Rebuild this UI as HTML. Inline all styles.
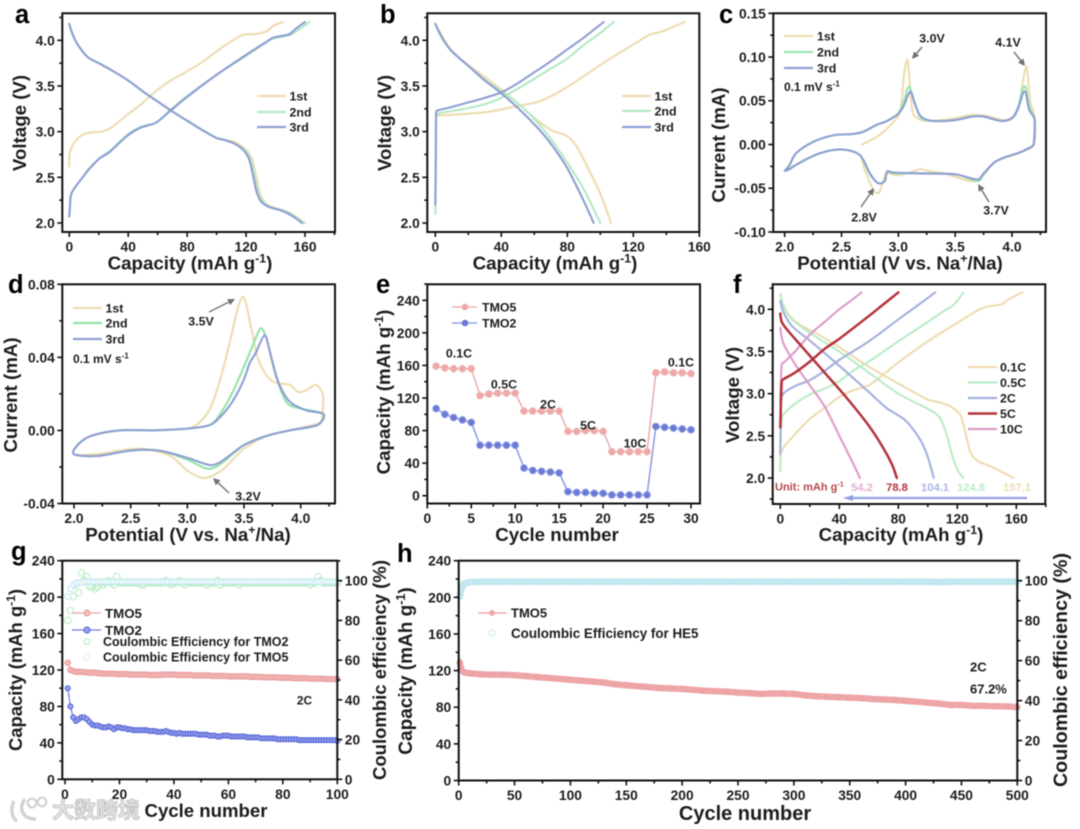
<!DOCTYPE html>
<html lang="en">
<head>
<meta charset="utf-8">
<title>Electrochemical performance panels</title>
<style>
html,body{margin:0;padding:0;background:#fff;width:1080px;height:829px;overflow:hidden}
svg{display:block;filter:blur(.5px)}
text{font-family:"Liberation Sans","Noto Sans CJK SC",sans-serif;font-weight:bold;fill:#1c1c1c}
</style>
</head>
<body>
<svg id="figure" xmlns="http://www.w3.org/2000/svg" width="1080" height="829" viewBox="0 0 1080 829"></svg>
<script>
/* ---------- tick labels ---------- */
const capVoltageYTicks=['2.0','2.5','3.0','3.5','4.0'];
const capXTicks160=['0','40','80','120','160'];
const cvCurrentTicksC=['-0.10','-0.05','0.00','0.05','0.10','0.15'];
const cvCurrentTicksD=['-0.04','0.00','0.04','0.08'];
const potentialTicks=['2.0','2.5','3.0','3.5','4.0'];
const rateXTicks=['0','5','10','15','20','25','30'];
const capacityTicks=['0','40','80','120','160','200','240'];
const ceTicks=['0','20','40','60','80','100'];
const cycleTicksG=['0','20','40','60','80','100'];
const cycleTicksH=['0','50','100','150','200','250','300','350','400','450','500'];

/* ---------- panel a ---------- */
const a1stChargeCap=[0,0.2,3,8.5,14,22,29,39,48,57,68,80,91,100,111,118,127,134,138.5,145];
const a1stChargeV=[2.62,2.76,2.87,2.96,2.99,3.0,3.05,3.18,3.29,3.42,3.55,3.66,3.77,3.88,4.0,4.06,4.07,4.1,4.16,4.2];
const a2ndChargeCap=[0,0.5,1,3,10,13,20,27.6,39,48,59,68,80,98,120,134,138.5,150,156,163];
const a2ndChargeV=[2.08,2.2,2.3,2.37,2.52,2.59,2.7,2.79,2.96,3.05,3.1,3.23,3.39,3.6,3.83,3.98,4.02,4.06,4.12,4.2];
const a3rdChargeCap=[0,0.5,1,3,10,13,20,27.6,39,48,59,68,80,98,120,134,138.5,149,154,160];
const a3rdChargeV=[2.07,2.2,2.3,2.37,2.52,2.58,2.7,2.78,2.95,3.04,3.1,3.22,3.38,3.6,3.84,3.985,4.03,4.065,4.13,4.2];
const a1stDischargeCap=[0,1,4,8,13,20,30,40,50,60,70,80,90,100,106,113,120,124,127,129,132,137,147,154,160];
const a1stDischargeV=[4.18,4.12,4.0,3.9,3.81,3.75,3.66,3.56,3.44,3.33,3.22,3.12,3.02,2.93,2.91,2.88,2.8,2.7,2.5,2.35,2.24,2.18,2.13,2.07,2.0];
const a2ndDischargeCap=[0,1,4,8,13,20,30,40,50,60,70,80,90,100,105,112,119,123,126,128,131,136,146,153,159];
const a2ndDischargeV=[4.18,4.12,4.0,3.9,3.81,3.75,3.66,3.56,3.44,3.33,3.22,3.12,3.02,2.93,2.91,2.87,2.8,2.7,2.5,2.35,2.24,2.18,2.13,2.07,2.0];
const a3rdDischargeCap=[0,1,4,8,13,20,30,40,50,60,70,80,90,100,105,112,118,122,125,127,130,135,145,152,158];
const a3rdDischargeV=[4.18,4.12,4.0,3.9,3.81,3.75,3.66,3.56,3.44,3.33,3.22,3.12,3.02,2.93,2.91,2.87,2.8,2.7,2.5,2.35,2.24,2.18,2.13,2.07,2.0];

/* ---------- panel b ---------- */
const b1stChargeCap=[2,15,33,47,63,73.5,86,100,116,130,138,151];
const b1stChargeV=[3.18,3.19,3.22,3.27,3.33,3.42,3.56,3.73,3.91,4.06,4.1,4.2];
const b2ndChargeCap=[0,0.3,0.5,2,15,30,40,50,60,70,80,90,100,108];
const b2ndChargeV=[2.1,2.6,3.15,3.2,3.24,3.3,3.37,3.47,3.58,3.69,3.8,3.95,4.08,4.2];
const b3rdChargeCap=[0,0.3,0.5,1,10,20,30,40,50,60,70,80,90,102];
const b3rdChargeV=[2.2,2.7,3.2,3.23,3.27,3.32,3.37,3.43,3.53,3.65,3.77,3.9,4.03,4.2];
const b1stDischargeCap=[0,10,20,30,40,50,60,70,80,86,92,100,106.5];
const b1stDischargeV=[4.18,3.88,3.73,3.6,3.46,3.31,3.15,3.02,2.95,2.83,2.62,2.32,2.0];
const b2ndDischargeCap=[0,2,5,10,20,30,40,50,60,70,80,90,100];
const b2ndDischargeV=[4.18,4.1,4.0,3.88,3.72,3.57,3.44,3.31,3.14,2.92,2.66,2.37,2.0];
const b3rdDischargeCap=[0,2,5,10,20,30,40,50,60,66,72,80,90,96];
const b3rdDischargeV=[4.18,4.1,4.0,3.88,3.72,3.56,3.42,3.26,3.08,2.96,2.82,2.6,2.24,2.0];

/* ---------- panel c ---------- */
const c1stPotential=[2.68,2.8,2.9,3.0,3.03,3.05,3.08,3.1,3.13,3.2,3.3,3.5,3.65,3.8,3.95,4.05,4.1,4.13,4.16,4.2,4.19,4.05,3.85,3.75,3.65,3.4,3.25,3.2,3.1,3.0,2.9,2.87,2.83,2.78,2.7,2.66,2.5,2.31,2.13,2.0];
const c1stCurrent=[0,0.008,0.018,0.033,0.05,0.08,0.097,0.07,0.035,0.028,0.027,0.03,0.034,0.032,0.028,0.04,0.075,0.088,0.05,0.03,0,-0.01,-0.02,-0.035,-0.042,-0.033,-0.03,-0.028,-0.032,-0.035,-0.033,-0.04,-0.055,-0.052,-0.027,-0.012,-0.0057,-0.01,-0.021,-0.03];
const c2ndPotential=[2.0,2.04,2.1,2.25,2.43,2.6,2.7,2.8,2.9,3.0,3.05,3.08,3.1,3.15,3.2,3.3,3.5,3.65,3.75,3.9,4.0,4.05,4.1,4.12,4.15,4.19,4.2,4.19,4.15,4.05,3.95,3.85,3.75,3.7,3.5,3.2,2.95,2.9,2.88,2.82,2.75,2.66,2.5,2.31,2.13,2.03,2.0];
const c2ndCurrent=[-0.03,-0.024,-0.01,0.003,0.0106,0.012,0.015,0.022,0.027,0.036,0.05,0.064,0.066,0.045,0.03,0.027,0.028,0.032,0.032,0.027,0.03,0.042,0.066,0.066,0.045,0.032,0.028,0,-0.004,-0.01,-0.014,-0.02,-0.034,-0.042,-0.034,-0.033,-0.033,-0.031,-0.042,-0.044,-0.034,-0.012,-0.0057,-0.01,-0.021,-0.029,-0.03];
const c3rdPotential=[2.0,2.04,2.1,2.25,2.43,2.6,2.7,2.8,2.9,3.0,3.05,3.08,3.11,3.15,3.2,3.3,3.5,3.65,3.75,3.9,4.0,4.05,4.1,4.12,4.15,4.19,4.2,4.19,4.15,4.05,3.95,3.85,3.75,3.7,3.5,3.2,2.95,2.9,2.88,2.82,2.75,2.66,2.5,2.31,2.13,2.03,2.0];
const c3rdCurrent=[-0.03,-0.024,-0.01,0.003,0.0106,0.012,0.015,0.022,0.027,0.035,0.045,0.055,0.06,0.045,0.032,0.027,0.028,0.032,0.032,0.027,0.03,0.04,0.06,0.06,0.04,0.032,0.028,0,-0.004,-0.01,-0.014,-0.02,-0.033,-0.04,-0.034,-0.033,-0.032,-0.031,-0.042,-0.044,-0.033,-0.012,-0.0057,-0.01,-0.021,-0.029,-0.03];

/* ---------- panel d ---------- */
const d1stPotential=[2.7,3.0,3.1,3.2,3.3,3.4,3.45,3.5,3.55,3.62,3.7,3.78,3.9,3.98,4.05,4.13,4.18,4.2,4.18,4.1,3.9,3.7,3.5,3.4,3.3,3.15,3.0,2.85,2.6,2.4,2.2,2.0,2.05,2.15,2.4,2.7];
const d1stCurrent=[0,0.001,0.004,0.012,0.03,0.055,0.068,0.073,0.06,0.04,0.03,0.026,0.025,0.021,0.022,0.025,0.022,0.018,0.005,0.003,0,-0.003,-0.01,-0.016,-0.022,-0.026,-0.022,-0.014,-0.01,-0.011,-0.013,-0.013,-0.007,-0.003,0,0];
const d2ndPotential=[2.7,3.0,3.2,3.3,3.4,3.5,3.6,3.65,3.7,3.78,3.88,4.0,4.2,4.15,3.9,3.7,3.5,3.3,3.18,3.0,2.75,2.5,2.2,2.0,2.03,2.15,2.4,2.7];
const d2ndCurrent=[0,0.001,0.003,0.01,0.021,0.035,0.05,0.056,0.05,0.03,0.015,0.012,0.009,0.003,0,-0.003,-0.008,-0.018,-0.021,-0.016,-0.011,-0.011,-0.014,-0.013,-0.008,-0.003,0,0];
const d3rdPotential=[2.7,3.0,3.2,3.3,3.4,3.5,3.55,3.6,3.68,3.72,3.8,3.9,4.05,4.2,4.15,3.9,3.7,3.5,3.3,3.2,3.0,2.75,2.5,2.2,2.0,2.03,2.15,2.4,2.7];
const d3rdCurrent=[0,0.001,0.003,0.008,0.016,0.028,0.037,0.042,0.052,0.045,0.027,0.016,0.011,0.009,0.003,0,-0.003,-0.008,-0.017,-0.019,-0.015,-0.011,-0.011,-0.014,-0.013,-0.008,-0.003,0,0];

/* ---------- panel e ---------- */
const eCycles=[1,2,3,4,5,6,7,8,9,10,11,12,13,14,15,16,17,18,19,20,21,22,23,24,25,26,27,28,29,30];
const eTMO5=[159,157,156,156,156,123,125,126,126,126,104,104,104,104,104,79,79,80,80,79,54,54,54,54,54,151,152,151,151,150];
const eTMO2=[107,100,96,93,90,62,62,62,62,62,34,31,30,29,28,5,4,4,3,3,1,1,1,1,1,85,84,83,82,81];

/* ---------- panel f ---------- */
const f01cChargeCap=[0,3,10,20,30,40,48,60,68,80,100,120,134,140,150,155,164];
const f01cChargeV=[2.28,2.38,2.52,2.7,2.83,2.96,3.03,3.1,3.2,3.37,3.62,3.84,3.99,4.03,4.06,4.12,4.2];
const f05cChargeCap=[0,0.5,2,10,20,30,40,50,60,80,100,110,118,124];
const f05cChargeV=[2.08,2.6,2.75,2.88,2.99,3.06,3.15,3.28,3.38,3.62,3.85,3.97,4.06,4.2];
const f2cChargeCap=[0,0.5,2,10,20,30,40,60,80,95,105];
const f2cChargeV=[2.28,2.9,3.0,3.09,3.16,3.27,3.4,3.62,3.88,4.07,4.2];
const f5cChargeCap=[0,1,3,10,20,30,40,60,70,80];
const f5cChargeV=[2.6,3.15,3.18,3.25,3.38,3.53,3.65,3.92,4.06,4.2];
const f10cChargeCap=[0,1,3,10,20,30,40,50,55];
const f10cChargeV=[2.9,3.35,3.38,3.5,3.7,3.85,4.0,4.13,4.2];
const f01cDischargeCap=[0,2,6,13,25,40,60,80,100,107,115,122,126,129,134,145,158];
const f01cDischargeV=[4.18,4.05,3.93,3.82,3.71,3.55,3.32,3.12,2.93,2.9,2.85,2.75,2.5,2.3,2.2,2.12,2.0];
const f05cDischargeCap=[0,3,8,20,40,60,80,100,108,113,116,120,124];
const f05cDischargeV=[4.18,4.0,3.88,3.72,3.5,3.25,3.0,2.82,2.72,2.5,2.3,2.1,2.0];
const f2cDischargeCap=[0,2,8,20,40,60,72,85,95,100,104];
const f2cDischargeV=[4.1,3.97,3.8,3.63,3.33,3.02,2.83,2.68,2.45,2.25,2.0];
const f5cDischargeCap=[0,1,5,15,30,45,60,70,76,79];
const f5cDischargeV=[3.95,3.85,3.75,3.55,3.25,2.95,2.62,2.35,2.15,2.0];
const f10cDischargeCap=[0,2,10,20,30,40,50,54];
const f10cDischargeV=[3.78,3.6,3.35,3.1,2.85,2.5,2.15,2.0];
const fRateValues=['54.2','78.8','104.1','124.8','157.1'];

/* ---------- panel g ---------- */
const gTMO5=[128,120,119,118,118,118,117.5,117.5,117,117,
 117,116.5,116.5,116,116,116,116,116,115.5,115.5,
 115.5,115.5,115.5,115,115,115,115,115,115,115,
 114.5,114.5,114.5,114.5,114.5,115,115,115,115,115,
 114.5,114.5,114.5,114.5,114.5,114.5,114,114,114,114,
 114,114,114,113.5,113.5,113.5,113.5,113.5,113.5,113,
 113,113,113,113,113,113,113,112.5,112.5,112.5,
 112.5,112.5,112,112,112,112,112,112,111.5,111.5,
 111.5,111.5,111.5,111,111,111,111,111,111,110.5,
 110.5,110.5,110.5,110.5,110.5,110,110,110,110,110];
const gTMO2=[100,80,68,64,66,68,68,66,63,60,
 59,59,58,57,57,58,57,55,57,57,
 56,56,55,55,54,54,54,54,54,54,
 53,53,53,52,52,52,53,52,51,51,
 50,51,50,50,50,50,50,50,49,49,
 49,49,48,48,48,47,47,48,48,48,
 47,47,47,47,47,47,46,46,46,46,
 46,45,45,45,45,45,45,44,44,44,
 44,44,44,44,44,43,43,43,43,43,
 43,43,43,43,43,43,43,43,43,42];
const gCeTMO2=[80,85,92,98,94,104,100,102,97,97,
 96,97,99,98,99,100,99,98,102,99,
 99,99,99,99,99,99,99,98,98,99,
 99,99,99,99,99,99,100,99,98,99,
 99,100,99,98,99,99,99,99,99,99,
 99,98,99,99,99,100,98,99,99,99,
 99,99,99,98,99,99,99,99,99,99,
 99,99,99,99,99,99,99,99,99,99,
 99,99,99,99,99,99,99,99,99,98,
 99,99,102,100,99,99,99,99,99,99];
const gCeTMO5=[92,96,98,99,99,99,99.5,99.5,99.5,99.5,
 99.5,99.5,99.5,99.5,99.5,99.5,99.5,99.5,99.5,99.5,
 99.5,99.5,99.5,99.5,99.5,99.5,99.5,99.5,99.5,99.5,
 99.5,99.5,99.5,99.5,99.5,99.5,99.5,99.5,99.5,99.5,
 99.5,99.5,99.5,99.5,99.5,99.5,99.5,99.5,99.5,99.5,
 99.5,99.5,99.5,99.5,99.5,99.5,99.5,99.5,99.5,99.5,
 99.5,99.5,99.5,99.5,99.5,99.5,99.5,99.5,99.5,99.5,
 99.5,99.5,99.5,99.5,99.5,99.5,99.5,99.5,99.5,99.5,
 99.5,99.5,99.5,99.5,99.5,99.5,99.5,99.5,99.5,99.5,
 99.5,99.5,99.5,99.5,99.5,99.5,99.5,99.5,99.5,99.5];

/* ---------- panel h ---------- */
const hCycles=[1,2,3,5,10,20,30,40,50,60,70,80,90,100,110,120,130,140,150,160,170,180,190,200,210,220,230,240,250,260,270,280,290,300,310,320,330,340,350,360,370,380,390,400,410,420,430,440,450,460,470,480,490,500];
const hTMO5=[129,122,120,118,117,116,115.5,115.5,115,114,113,112,111,110,109,108,107,105,104,103,102,101,100.5,100,99,98,97.5,97,96,95.5,94.5,95,95,94.5,93,92,91.5,91,90.5,90,89,88.5,88,87,86,85,84,82.5,82.5,81.5,81.5,81,81,80];
const hCeHE5=[92,95,97,98.5,99.3,99.5,99.5,99.5,99.5,99.5,99.5,99.5,99.5,99.5,99.5,99.5,99.5,99.5,99.5,99.5,99.5,99.5,99.5,99.5,99.5,99.5,99.5,99.5,99.5,99.5,99.5,99.5,99.5,99.5,99.5,99.5,99.5,99.5,99.5,99.5,99.5,99.5,99.5,99.5,99.5,99.5,99.3,99.5,99.5,99.5,99.5,99.5,99.5,99.5];

/* ---------- drawing helpers ---------- */
const SVGNS='http://www.w3.org/2000/svg';
const root=document.getElementById('figure');
const C1='#eedcb0',C2='#b4e9c4',C3='#8e9fd4';
const TITLE=18.7;
function mk(tag,attrs,parent){
  const el=document.createElementNS(SVGNS,tag);
  for(const k in attrs){el.setAttribute(k,attrs[k]);}
  (parent||root).appendChild(el);
  return el;
}
function linear(d0,d1,p0,p1){return v=>p0+(v-d0)*(p1-p0)/(d1-d0);}
function label(parent,x,cy,str,name,size,anchor,color){
  const t=mk('text',{x:x,y:cy+size*0.36,'font-size':size,'text-anchor':anchor||'start'},parent);
  if(color){t.style.fill=color;}
  t.textContent=str;
  
  
  return t;
}
function supTail(t,base,sup,tail,size){
  t.appendChild(document.createTextNode(base));
  const s=mk('tspan',{dy:-size*0.38,'font-size':size*0.66},t);
  s.textContent=sup;
  if(tail){
    const e=mk('tspan',{dy:size*0.38},t);
    e.textContent=tail;
  }
}
function axisTitle(parent,x,y,rot,base,sup,tail,name,size){
  const t=mk('text',{'font-size':size,'text-anchor':'middle',transform:rot?`translate(${x} ${y}) rotate(-90)`:`translate(${x} ${y})`},parent);
  supTail(t,base,sup,tail,size);
  
  
  return t;
}
function panel(name){
  const g=mk('g',{});
  
  
  return g;
}
function frame(g,b){
  const r=mk('rect',{x:b[0],y:b[1],width:b[2]-b[0],height:b[3]-b[1],fill:'none',stroke:'#111','stroke-width':2},g);
  
  
}
function tick(g,x1,y1,x2,y2,name){
  const l=mk('line',{x1:x1,y1:y1,x2:x2,y2:y2,stroke:'#111','stroke-width':1.6},g);
  
  
}
function xAxis(g,b,sx,labels,size){
  const vals=labels.map(parseFloat);
  const step=(vals[1]-vals[0])/2;
  for(let v=vals[0];v<=vals[vals.length-1]+step*3;v+=step){
    const px=sx(v);
    if(px<b[0]-0.5||px>b[2]+0.5)continue;
    const major=Math.round((v-vals[0])/step)%2===0;
    tick(g,px,b[3],px,b[3]+(major?5:3),major?'x-major-tick':'x-minor-tick');
  }
  labels.forEach(s=>label(g,sx(parseFloat(s)),b[3]+14.5,s,'x-tick-label',size||13.8,'middle'));
}
function yAxis(g,b,sy,labels,size,side){
  const vals=labels.map(parseFloat);
  const step=(vals[1]-vals[0])/2;
  const right=side==='right';
  const edge=right?b[2]:b[0];
  const dir=right?1:-1;
  for(let v=vals[0]-step*4;v<=vals[vals.length-1]+step*4;v+=step){
    const py=sy(v);
    if(py<b[1]-0.5||py>b[3]+0.5)continue;
    const major=Math.round((v-vals[0])/step)%2===0;
    tick(g,edge,py,edge+dir*(major?5:3),py,major?'y-major-tick':'y-minor-tick');
  }
  labels.forEach(s=>label(g,edge+dir*7.5,sy(parseFloat(s)),s,'y-tick-label',size||13.8,right?'start':'end'));
}
function clampOffset(dx,dy,limit){
  const len=Math.hypot(dx,dy);
  if(len<=limit||len===0)return [dx,dy];
  return [dx*limit/len,dy*limit/len];
}
function smoothPath(pts){
  let d=`M${pts[0][0].toFixed(2)} ${pts[0][1].toFixed(2)}`;
  for(let i=0;i<pts.length-1;i++){
    const p0=pts[Math.max(i-1,0)],p1=pts[i],p2=pts[i+1],p3=pts[Math.min(i+2,pts.length-1)];
    const seg=Math.hypot(p2[0]-p1[0],p2[1]-p1[1])/3;
    const o1=clampOffset((p2[0]-p0[0])/6,(p2[1]-p0[1])/6,seg);
    const o2=clampOffset((p3[0]-p1[0])/6,(p3[1]-p1[1])/6,seg);
    const c1x=p1[0]+o1[0],c1y=p1[1]+o1[1];
    const c2x=p2[0]-o2[0],c2y=p2[1]-o2[1];
    d+=`C${c1x.toFixed(2)} ${c1y.toFixed(2)} ${c2x.toFixed(2)} ${c2y.toFixed(2)} ${p2[0].toFixed(2)} ${p2[1].toFixed(2)}`;
  }
  return d;
}
function curve(g,xs,ys,sx,sy,color,name,w){
  const pts=xs.map((x,i)=>[sx(x),sy(ys[i])]);
  const p=mk('path',{d:smoothPath(pts),fill:'none',stroke:color,'stroke-width':w||2.1,'stroke-linejoin':'round','stroke-linecap':'round'},g);
  
  
  return p;
}
function legendLine(g,x1,x2,y,color,txt,tx,name,w,fs){
  const l=mk('line',{x1:x1,x2:x2,y1:y,y2:y,stroke:color,'stroke-width':w||2.2},g);
  
  
  label(g,tx,y,txt,name+'-label',fs||12.4);
}
function arrow(g,x1,y1,x2,y2,name){
  const ang=Math.atan2(y2-y1,x2-x1),h=7,wd=3.4;
  const bx=x2-h*Math.cos(ang),by=y2-h*Math.sin(ang);
  const l=mk('line',{x1:x1,y1:y1,x2:bx,y2:by,stroke:'#777','stroke-width':1.5},g);
  
  
  const p=mk('polygon',{points:`${x2},${y2} ${bx-wd*Math.sin(ang)},${by+wd*Math.cos(ang)} ${bx+wd*Math.sin(ang)},${by-wd*Math.cos(ang)}`,fill:'#6f6f6f'},g);
  
  
}
function letter(x,y,s,name){
  const t=mk('text',{x:x,y:y,'font-size':25.5},root);
  t.style.fill='#000';
  t.textContent=s;
  
  
}
function markers(g,xs,ys,sx,sy,r,fill,stroke,name,sw){
  xs.forEach((x,i)=>{
    const c=mk('circle',{cx:sx(x),cy:sy(ys[i]),r:r,fill:fill,stroke:stroke,'stroke-width':sw||1},g);
    
    
  });
}
function straight(g,xs,ys,sx,sy,color,w,name){
  const p=mk('polyline',{points:xs.map((x,i)=>sx(x).toFixed(2)+','+sy(ys[i]).toFixed(2)).join(' '),fill:'none',stroke:color,'stroke-width':w,'stroke-linejoin':'round','stroke-linecap':'round'},g);
  
  
}

/* ---------- panel a ---------- */
(function(){
  const g=panel('panel-a');
  const b=[62.3,13.3,335,232];
  const sx=linear(0,160,69.3,305),sy=linear(2,4,223,40.3);
  curve(g,a1stChargeCap,a1stChargeV,sx,sy,C1,'line-1st-charge');
  curve(g,a1stDischargeCap,a1stDischargeV,sx,sy,C1,'line-1st-discharge');
  curve(g,a2ndChargeCap,a2ndChargeV,sx,sy,C2,'line-2nd-charge');
  curve(g,a2ndDischargeCap,a2ndDischargeV,sx,sy,C2,'line-2nd-discharge');
  curve(g,a3rdChargeCap,a3rdChargeV,sx,sy,C3,'line-3rd-charge');
  curve(g,a3rdDischargeCap,a3rdDischargeV,sx,sy,C3,'line-3rd-discharge');
  frame(g,b);
  xAxis(g,b,sx,capXTicks160);
  yAxis(g,b,sy,capVoltageYTicks);
  axisTitle(g,190,269.5,false,'Capacity (mAh g','-1',')','x-axis-title',TITLE);
  axisTitle(g,26,123,true,'Voltage (V)','','','y-axis-title',TITLE);
  legendLine(g,257,286,96,C1,'1st',289.5,'legend-1st');
  legendLine(g,257,286,112,C2,'2nd',289.5,'legend-2nd');
  legendLine(g,257,286,127,C3,'3rd',289.5,'legend-3rd');
})();

/* ---------- panel b ---------- */
(function(){
  const g=panel('panel-b');
  const b=[427.3,13.3,699.3,232];
  const sx=linear(0,160,435.3,699.3),sy=linear(2,4,223,40.3);
  curve(g,b1stChargeCap,b1stChargeV,sx,sy,C1,'line-1st-charge');
  curve(g,b1stDischargeCap,b1stDischargeV,sx,sy,C1,'line-1st-discharge');
  curve(g,b2ndChargeCap,b2ndChargeV,sx,sy,C2,'line-2nd-charge');
  curve(g,b2ndDischargeCap,b2ndDischargeV,sx,sy,C2,'line-2nd-discharge');
  curve(g,b3rdChargeCap,b3rdChargeV,sx,sy,C3,'line-3rd-charge');
  curve(g,b3rdDischargeCap,b3rdDischargeV,sx,sy,C3,'line-3rd-discharge');
  frame(g,b);
  xAxis(g,b,sx,capXTicks160);
  yAxis(g,b,sy,capVoltageYTicks);
  axisTitle(g,555,269.5,false,'Capacity (mAh g','-1',')','x-axis-title',TITLE);
  axisTitle(g,391,123,true,'Voltage (V)','','','y-axis-title',TITLE);
  legendLine(g,622,651,96,C1,'1st',654.5,'legend-1st');
  legendLine(g,622,651,111,C2,'2nd',654.5,'legend-2nd');
  legendLine(g,622,651,127,C3,'3rd',654.5,'legend-3rd');
})();

/* ---------- panel c ---------- */
(function(){
  const g=panel('panel-c');
  const b=[773.3,13.3,1046,232];
  const sx=linear(2,4,784.7,1012),sy=linear(-0.1,0.15,232,13.3);
  curve(g,c1stPotential,c1stCurrent,sx,sy,C1,'line-1st');
  curve(g,c2ndPotential,c2ndCurrent,sx,sy,'#9be6b0','line-2nd');
  curve(g,c3rdPotential,c3rdCurrent,sx,sy,C3,'line-3rd');
  frame(g,b);
  xAxis(g,b,sx,potentialTicks);
  yAxis(g,b,sy,cvCurrentTicksC);
  axisTitle(g,900,269.5,false,'Potential (V vs. Na','+','/Na)','x-axis-title',TITLE);
  axisTitle(g,725,145,true,'Current (mA)','','','y-axis-title',TITLE);
  legendLine(g,784,813,36,C1,'1st',817,'legend-1st');
  legendLine(g,784,813,52,'#9be6b0','2nd',817,'legend-2nd');
  legendLine(g,784,813,68,C3,'3rd',817,'legend-3rd');
  const rate=mk('text',{x:784,y:91,'font-size':12},g);
  supTail(rate,'0.1 mV s','-1','',12);
  
  
  label(g,932,38,'3.0V','peak-label-3-0v',12.4,'middle');
  label(g,1008,42,'4.1V','peak-label-4-1v',12.4,'middle');
  label(g,864,217,'2.8V','peak-label-2-8v',12.4,'middle');
  label(g,996,210,'3.7V','peak-label-3-7v',12.4,'middle');
  arrow(g,922,47,912,59,'arrow-3-0v');
  arrow(g,1014,52,1025,66,'arrow-4-1v');
  arrow(g,861,207,874,188,'arrow-2-8v');
  arrow(g,989,202,978,184,'arrow-3-7v');
})();

/* ---------- panel d ---------- */
(function(){
  const g=panel('panel-d');
  const b=[62.3,284.3,335,503.5];
  const sx=linear(2,4,74,300.7),sy=linear(-0.04,0.08,503.5,284.3);
  curve(g,d1stPotential,d1stCurrent,sx,sy,C1,'line-1st');
  curve(g,d2ndPotential,d2ndCurrent,sx,sy,'#93e3a8','line-2nd');
  curve(g,d3rdPotential,d3rdCurrent,sx,sy,C3,'line-3rd');
  frame(g,b);
  xAxis(g,b,sx,potentialTicks);
  yAxis(g,b,sy,cvCurrentTicksD);
  axisTitle(g,188,541,false,'Potential (V vs. Na','+','/Na)','x-axis-title',TITLE);
  axisTitle(g,17,395,true,'Current (mA)','','','y-axis-title',TITLE);
  legendLine(g,73,102,308,C1,'1st',105.5,'legend-1st');
  legendLine(g,73,102,323,'#93e3a8','2nd',105.5,'legend-2nd');
  legendLine(g,73,102,339,C3,'3rd',105.5,'legend-3rd');
  const rate=mk('text',{x:73,y:363,'font-size':12},g);
  supTail(rate,'0.1 mV s','-1','',12);
  
  
  label(g,201,321,'3.5V','peak-label-3-5v',12.4,'middle');
  label(g,248,496,'3.2V','peak-label-3-2v',12.4,'middle');
  arrow(g,209,312,235,299,'arrow-3-5v');
  arrow(g,229,493,213,478,'arrow-3-2v');
})();

/* ---------- panel e ---------- */
(function(){
  const g=panel('panel-e');
  const b=[427.3,284.3,700,503.5];
  const sx=linear(0,30,427.3,691),sy=linear(0,240,495.7,300.3);
  straight(g,eCycles,eTMO5,sx,sy,'#eaa5a5',1.4,'line-tmo5');
  straight(g,eCycles,eTMO2,sx,sy,'#8492e0',1.4,'line-tmo2');
  markers(g,eCycles,eTMO5,sx,sy,3.3,'#f0a7a7','#eeb4b4','point-tmo5');
  markers(g,eCycles,eTMO2,sx,sy,3.3,'#6a79d6','#8a97e2','point-tmo2');
  frame(g,b);
  xAxis(g,b,sx,rateXTicks);
  yAxis(g,b,sy,capacityTicks);
  axisTitle(g,557,541,false,'Cycle number','','','x-axis-title',TITLE);
  axisTitle(g,390,392,true,'Capacity (mAh g','-1',')','y-axis-title',TITLE);
  legendLine(g,452,477,307,'#eaa5a5','TMO5',482,'legend-tmo5',1.3);
  legendLine(g,452,477,323,'#8492e0','TMO2',482,'legend-tmo2',1.3);
  const m1=mk('circle',{cx:465,cy:307,r:3.3,fill:'#f0a7a7'},g);
  
  
  const m2=mk('circle',{cx:465,cy:323,r:3.3,fill:'#6a79d6'},g);
  
  
  label(g,459,353,'0.1C','rate-label-0-1c',12.4,'middle');
  label(g,504,384,'0.5C','rate-label-0-5c',12.4,'middle');
  label(g,548,404,'2C','rate-label-2c',12.4,'middle');
  label(g,588,425,'5C','rate-label-5c',12.4,'middle');
  label(g,635,443,'10C','rate-label-10c',12.4,'middle');
  label(g,681,362,'0.1C','rate-label-0-1c-return',12.4,'middle');
})();

/* ---------- panel f ---------- */
(function(){
  const g=panel('panel-f');
  const b=[772.7,284.3,1045.3,504];
  const sx=linear(0,160,780.3,1016.3),sy=linear(2,4,478,309.3);
  const c01='#eedcb0',c05='#b9ecc6',c2='#a3b0de',c5='#b3323b',c10='#dd9bc9';
  curve(g,f01cChargeCap,f01cChargeV,sx,sy,c01,'line-0-1c-charge');
  curve(g,f01cDischargeCap,f01cDischargeV,sx,sy,c01,'line-0-1c-discharge');
  curve(g,f05cChargeCap,f05cChargeV,sx,sy,c05,'line-0-5c-charge');
  curve(g,f05cDischargeCap,f05cDischargeV,sx,sy,c05,'line-0-5c-discharge');
  curve(g,f2cChargeCap,f2cChargeV,sx,sy,c2,'line-2c-charge');
  curve(g,f2cDischargeCap,f2cDischargeV,sx,sy,c2,'line-2c-discharge');
  curve(g,f10cChargeCap,f10cChargeV,sx,sy,c10,'line-10c-charge');
  curve(g,f10cDischargeCap,f10cDischargeV,sx,sy,c10,'line-10c-discharge');
  curve(g,f5cChargeCap,f5cChargeV,sx,sy,c5,'line-5c-charge',2.5);
  curve(g,f5cDischargeCap,f5cDischargeV,sx,sy,c5,'line-5c-discharge',2.5);
  frame(g,b);
  xAxis(g,b,sx,capXTicks160);
  yAxis(g,b,sy,capVoltageYTicks);
  axisTitle(g,901,541,false,'Capacity (mAh g','-1',')','x-axis-title',TITLE);
  axisTitle(g,739,395,true,'Voltage (V)','','','y-axis-title',TITLE);
  legendLine(g,968,997,367,c01,'0.1C',1000,'legend-0-1c');
  legendLine(g,968,997,382.5,c05,'0.5C',1000,'legend-0-5c');
  legendLine(g,968,997,398,c2,'2C',1000,'legend-2c');
  legendLine(g,968,997,413.5,c5,'5C',1000,'legend-5c',2.5);
  legendLine(g,968,997,429,c10,'10C',1000,'legend-10c');
  const unit=mk('text',{x:775,y:490.7,'font-size':11},g);
  unit.style.fill='#b8464c';
  supTail(unit,'Unit: mAh g','-1','',11);
  
  
  const rateColors=['#e3aed6','#b3323b','#a9b5e2','#b9ecc6','#eedcb0'];
  const rateXs=[862,897,935,971,1017];
  fRateValues.forEach((v,i)=>{
    const t=label(g,rateXs[i],487,v,'capacity-value',11.2,'middle',rateColors[i]);
    
  });
  const ar=mk('line',{x1:1027,y1:498,x2:850,y2:498,stroke:'#8f9fe0','stroke-width':2.2},g);
  
  
  const ah=mk('polygon',{points:'843,498 853,495 853,501',fill:'#8f9fe0'},g);
  
  
})();

/* ---------- panel g ---------- */
(function(){
  const g=panel('panel-g');
  const b=[62.3,560.7,337.3,779.3];
  const sx=linear(0,100,65,337.3),sy=linear(0,240,779.3,560.7),sr=linear(0,100,779.3,580.7);
  const cyc=gTMO5.map((_,i)=>i+1);
  markers(g,cyc,gCeTMO2,sx,sr,3.3,'none','#b4ecbc','ce-point-tmo2',1);
  markers(g,cyc,gCeTMO5,sx,sr,2.8,'#fff','#bde6ee','ce-point-tmo5',1);
  straight(g,cyc,gTMO5,sx,sy,'#eaa5a5',1.2,'line-tmo5');
  straight(g,cyc,gTMO2,sx,sy,'#6d7be0',1.2,'line-tmo2');
  markers(g,cyc,gTMO5,sx,sy,2.7,'#f6bcbc','#e69a9a','point-tmo5',1);
  markers(g,cyc,gTMO2,sx,sy,2.5,'#98a4ec','#4e5ed4','point-tmo2',1);
  frame(g,b);
  xAxis(g,b,sx,cycleTicksG);
  yAxis(g,b,sy,capacityTicks);
  yAxis(g,b,sr,ceTicks,13.8,'right');
  axisTitle(g,206,817,false,'Cycle number','','','x-axis-title',18.6);
  axisTitle(g,22,670,true,'Capacity (mAh g','-1',')','y-axis-title',18.4);
  axisTitle(g,386,670,true,'Coulombic efficiency (%)','','','secondary-y-axis-title',18.5);
  legendLine(g,72,101,613,'#eaa5a5','TMO5',105,'legend-tmo5',1.2,13.3);
  legendLine(g,72,101,630,'#6d7be0','TMO2',105,'legend-tmo2',1.2,13.3);
  const lm=[[87,613,'#f6bcbc','#e69a9a'],[87,630,'#98a4ec','#4e5ed4'],[87,641.5,'#fff','#b4ecbc'],[87,657,'#fff','#d6eef2']];
  lm.forEach(m=>{
    const c=mk('circle',{cx:m[0],cy:m[1],r:3,fill:m[2],stroke:m[3],'stroke-width':1},g);
    
    
  });
  label(g,103,641.5,'Coulombic Efficiency for TMO2','legend-ce-tmo2-label',12.5);
  label(g,103,657,'Coulombic Efficiency for TMO5','legend-ce-tmo5-label',12.5);
  label(g,304.5,700,'2C','rate-label-2c',12,'middle');
})();

/* ---------- panel h ---------- */
(function(){
  const g=panel('panel-h');
  const b=[458.7,560.7,1017.3,780.5];
  const sx=linear(0,500,458.7,1017.3),sy=linear(0,240,780.5,560.7),sr=linear(0,100,780.5,580.7);
  straight(g,hCycles,hCeHE5,sx,sr,'#c2e7f0',6.6,'band-ce-he5');
  markers(g,hCycles,hCeHE5,sx,sr,2.9,'#c7e9f2','#bce3ed','ce-point-he5',1);
  straight(g,hCycles,hTMO5,sx,sy,'#efa6a8',6.4,'band-tmo5');
  markers(g,hCycles,hTMO5,sx,sy,2.7,'#efa6a8','#ea9fa2','point-tmo5',1);
  frame(g,b);
  xAxis(g,b,sx,cycleTicksH);
  yAxis(g,b,sy,capacityTicks);
  yAxis(g,b,sr,ceTicks,13.8,'right');
  axisTitle(g,745,820,false,'Cycle number','','','x-axis-title',20);
  axisTitle(g,412,671,true,'Capacity (mAh g','-1',')','y-axis-title',19);
  axisTitle(g,1067,670,true,'Coulombic efficiency (%)','','','secondary-y-axis-title',19.7);
  legendLine(g,478,507,613,'#e79ea0','TMO5',511,'legend-tmo5',1.3,13);
  const m1=mk('circle',{cx:492,cy:613,r:3,fill:'#efa6a8'},g);
  
  
  const m2=mk('circle',{cx:492,cy:633,r:3,fill:'#fff',stroke:'#cfeaf1','stroke-width':1.2},g);
  
  
  label(g,511,633,'Coulombic Efficiency for HE5','legend-ce-he5-label',13.4);
  label(g,970,667,'2C','rate-label-2c',13);
  label(g,970,689,'67.2%','retention-label',13);
})();

/* ---------- panel letters ---------- */
letter(15,23,'a','panel-letter-a');
letter(380,23,'b','panel-letter-b');
letter(719,23,'c','panel-letter-c');
letter(8,293,'d','panel-letter-d');
letter(376,293,'e','panel-letter-e');
letter(733,293,'f','panel-letter-f');
letter(11,560,'g','panel-letter-g');
letter(397,562,'h','panel-letter-h');

/* ---------- watermark ---------- */
(function(){
  const g=panel('watermark');
  const k=mk('path',{d:'M14 801 C10 810 12 818 17 821 M25 799 C18 808 22 819 36 819',fill:'none',stroke:'#d2d2d2','stroke-width':3.4},g);
  
  
  const c1=mk('circle',{cx:32,cy:803,r:4.3,fill:'none',stroke:'#d2d2d2','stroke-width':2.2},g);
  
  
  const c2=mk('circle',{cx:42,cy:802,r:4.3,fill:'none',stroke:'#d2d2d2','stroke-width':2.2},g);
  
  
  const t=mk('text',{x:52,y:818,'font-size':22},g);
  t.style.fill='#e6e6e6';
  t.style.stroke='#bcbcbc';
  t.style.strokeWidth='0.8';
  t.textContent='大数跨境';
  
  
})();
</script>
</body>
</html>
